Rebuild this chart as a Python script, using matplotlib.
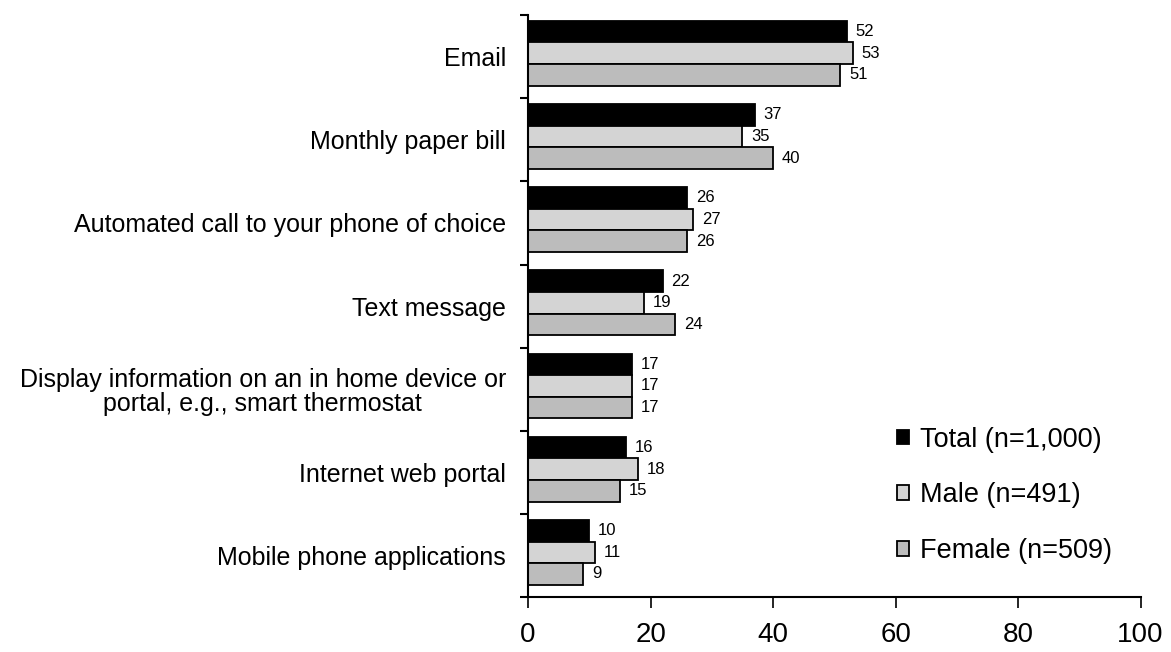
import matplotlib
matplotlib.use("Agg")
import matplotlib.pyplot as plt
import numpy as np

categories = [
    "Email",
    "Monthly paper bill",
    "Automated call to your phone of choice",
    "Text message",
    "Display information on an in home device or\nportal, e.g., smart thermostat",
    "Internet web portal",
    "Mobile phone applications",
]
total = [52, 37, 26, 22, 17, 16, 10]
male = [53, 35, 27, 19, 17, 18, 11]
female = [51, 40, 26, 24, 17, 15, 9]
series_labels = ["Total (n=1,000)", "Male (n=491)", "Female (n=509)"]
x_ticks = [0, 20, 40, 60, 80, 100]

plt.rcParams["font.family"] = ["Liberation Sans", "DejaVu Sans"]

fig = plt.figure(figsize=(11.71, 6.52), dpi=100)
ax = fig.add_axes([0.451, 0.084, 0.523, 0.893])

n = len(categories)
pos = np.arange(n)
bh = 0.26
series = [total, male, female]
faces = ["#000000", "#d4d4d4", "#bcbcbc"]
offsets = [-bh, 0, bh]

for vals, fc, off, lab in zip(series, faces, offsets, series_labels):
    bars = ax.barh(pos + off - 0.04, vals, height=bh, color=fc, edgecolor="black",
                   linewidth=1.3, label=lab)
    for b, v in zip(bars, vals):
        ax.text(v + 1.4, b.get_y() + b.get_height() / 2, str(v),
                va="center", ha="left", fontsize=12)

ax.set_ylim(n - 0.5, -0.5)
ax.set_xlim(0, 100)
ax.set_yticks(pos)
ax.set_yticklabels(categories, fontsize=18)
for lbl in ax.get_yticklabels():
    lbl.set_multialignment("center")
    lbl.set_linespacing(1.0)
ax.set_yticks(np.arange(n + 1) - 0.5, minor=True)
ax.tick_params(axis="y", which="major", length=0, pad=16)
ax.tick_params(axis="y", which="minor", length=6, width=1.5, direction="out")
ax.set_xticks(x_ticks)
ax.tick_params(axis="x", labelsize=20, length=8, width=1.2, pad=10)

for s in ["top", "right"]:
    ax.spines[s].set_visible(False)
ax.spines["left"].set_linewidth(1.5)
ax.spines["bottom"].set_linewidth(1.5)

leg = ax.legend(loc="lower left", bbox_to_anchor=(0.562, 0.015), frameon=False,
                fontsize=19.5, handlelength=0.45, handleheight=0.45,
                labelspacing=1.1, handletextpad=0.4)

fig.savefig("out.png", dpi=100)
